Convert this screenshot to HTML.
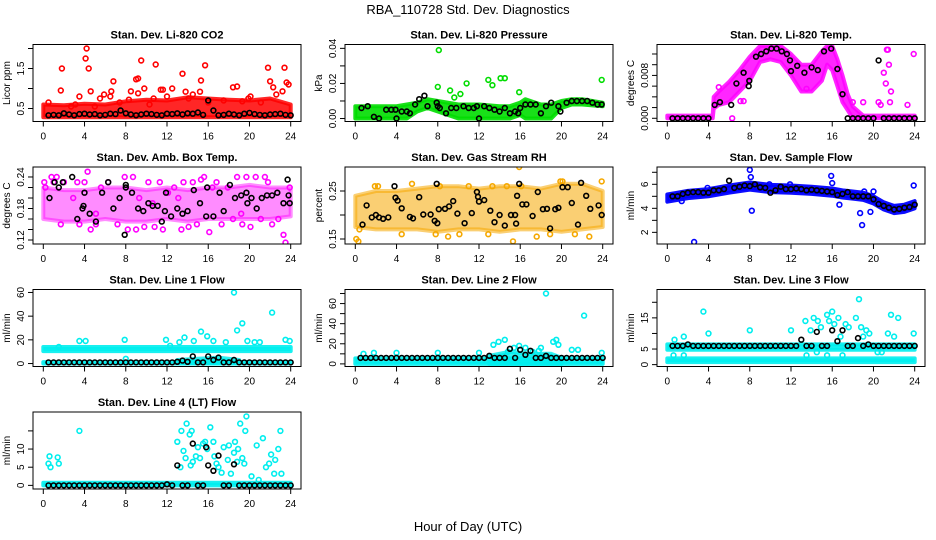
<!DOCTYPE html>
<html><head><meta charset="utf-8"><title>RBA_110728 Std. Dev. Diagnostics</title>
<style>
html,body{margin:0;padding:0;background:#fff;}
svg{display:block;font-family:"Liberation Sans",Arial,sans-serif;}
</style></head>
<body>
<svg id="chart" width="936" height="540" viewBox="0 0 936 540" xmlns="http://www.w3.org/2000/svg">
<rect x="0" y="0" width="936" height="540" fill="#fff"/>
<text x="468" y="14" text-anchor="middle" font-size="13">RBA_110728  Std. Dev. Diagnostics</text>
<text x="468" y="531" text-anchor="middle" font-size="13">Hour of Day (UTC)</text>
</svg>
<script>
// ---- x axis ----
const xTicks = [0,4,8,12,16,20,24];
const blackHours = [0.5,1,1.5,2,2.5,3,3.5,4,4.5,5,5.5,6,6.5,7,7.5,8,8.5,9,9.5,10,10.5,11,11.5,12,12.5,13,13.5,14,14.5,15,15.5,16,16.5,17,17.5,18,18.5,19,19.5,20,20.5,21,21.5,22,22.5,23,23.5,24];

// ---- P1 CO2 ----
const co2BandHours = [0,2,4,6,8,10,12,14,16,18,20,22,24];
const co2BandLo = [0.28,0.28,0.28,0.28,0.28,0.28,0.28,0.28,0.28,0.28,0.28,0.28,0.28];
const co2BandHi = [0.6,0.58,0.62,0.6,0.68,0.72,0.7,0.78,0.75,0.72,0.7,0.75,0.6];
const co2RedX = [1.7,1.8,4.2,4.1,4.4,4.6,3.5,3.1,5.5,6.6,6.8,6.5,7.4,8.5,9.0,9.2,9.5,9.2,9.8,10.7,10.9,11.4,11.6,12.5,13.5,13.8,14.5,15.2,15.3,15.7,16.0,18.4,18.8,19.3,20.1,21.1,21.8,22.0,22.3,22.6,23.2,23.4,23.6,23.8,2.7,5.0,8.3,12.0,17.5,0.5,5.9,10.3,14.1,19.9];
const co2RedY = [0.95,1.5,2.0,1.75,1.5,0.93,0.8,0.6,0.75,0.93,1.18,0.8,0.65,0.93,1.23,1.25,1.7,0.88,1.0,0.75,1.6,0.97,0.97,1.0,1.37,0.92,0.85,0.92,1.2,1.58,0.65,1.03,1.05,0.68,0.8,0.65,1.52,1.18,1.03,0.85,0.93,1.52,1.15,1.1,0.55,0.55,0.72,0.8,0.7,0.65,0.85,0.6,0.75,0.75];
const co2Black = [0.33,0.34,0.33,0.38,0.35,0.33,0.36,0.37,0.35,0.36,0.33,0.34,0.37,0.36,0.45,0.38,0.35,0.33,0.35,0.37,0.36,0.34,0.33,0.37,0.36,0.38,0.35,0.38,0.37,0.40,0.34,0.70,0.45,0.33,0.34,0.37,0.35,0.33,0.37,0.39,0.36,0.34,0.33,0.35,0.36,0.37,0.34,0.33];

// ---- P2 Pressure ----
const presBandHours = [0,2,4,5,6,7,8,10,12,14,15,16,16.5,17,18,19,20,21,22,24];
const presBandLo = [0,0,0,0,0.004,0.006,0.004,0,0,0,0,0.002,0,0,0,0,0.006,0.008,0.008,0.007];
const presBandHi = [0.007,0.007,0.007,0.008,0.009,0.011,0.01,0.008,0.008,0.007,0.007,0.009,0.011,0.01,0.008,0.008,0.01,0.011,0.011,0.009];
const presGreenX = [8.1,8.0,9.2,9.6,10.2,10.8,12.9,13.3,14.1,14.5,15.9,23.9];
const presGreenY = [0.039,0.018,0.016,0.012,0.014,0.020,0.022,0.019,0.023,0.023,0.015,0.022];
const presBlackX = [0.6,1.2,1.8,2.3,3.0,3.5,3.9,4.0,4.5,5.0,5.3,5.8,6.2,6.7,7.0,7.9,8.0,8.2,8.8,9.3,9.8,10.5,11.0,11.5,11.8,12.0,12.5,13.0,13.5,14.0,14.5,15.0,15.5,15.8,16.0,16.5,17.0,17.5,18.0,18.5,19.0,19.7,19.9,20.5,21.0,21.5,22.0,22.5,23.0,23.5,23.9];
const presBlackY = [0.006,0.007,0.001,0,0.005,0.005,0.005,0,0.004,0.004,0.003,0.008,0.011,0.013,0.007,0.009,0.007,0.006,0.003,0.006,0.006,0.007,0.006,0.006,0.007,0,0.007,0.006,0.005,0.004,0.006,0.003,0.004,0.003,0.006,0.008,0.008,0.008,0.003,0.007,0.009,0.007,0.004,0.009,0.01,0.01,0.01,0.01,0.009,0.008,0.008];

// ---- P3 Temp ----
const tempBandHours = [0,4.4,4.5,5,6,7,8,9,10,11,12,13,14,15,15.5,16,16.5,17,17.5,18,19,24];
const tempBandLo = [0,0,0.0018,0.0025,0.003,0.005,0.007,0.0105,0.011,0.0105,0.008,0.005,0.005,0.007,0.01,0.009,0.006,0.003,0.0015,0,0,0];
const tempBandHi = [0.0005,0.0005,0.004,0.005,0.0068,0.009,0.0115,0.0135,0.0135,0.0135,0.012,0.01,0.01,0.0125,0.0135,0.0135,0.011,0.008,0.0045,0.0022,0.0005,0.0005];
const tempMagX = [20.5,20.7,21.0,21.2,21.3,21.4,21.5,21.7,21.6,23.3,23.9,19.0,18.0,6.3,7.1,7.4,5.0,13.5];
const tempMagY = [0.003,0.0025,0.0085,0.0065,0.0128,0.0128,0.01,0.005,0.003,0.0025,0.012,0.003,0.003,0.0,0.0032,0.0032,0.0058,0.0055];
const tempBlackX = [0.5,1,1.5,2,2.5,3,3.5,4,4.6,5.1,6.2,6.7,7.4,7.9,7.95,8.6,9.1,9.6,10.1,10.6,11.1,11.6,11.9,12.0,12.6,13.3,14.0,14.6,15.2,15.9,16.5,17.0,17.5,18,18.5,19,19.5,20,20.5,21,21.5,22,22.5,23,23.5,24];
const tempBlackY = [0,0,0,0,0,0,0,0,0.0025,0.003,0.0025,0.0065,0.0085,0.006,0.007,0.0115,0.012,0.0125,0.013,0.013,0.0125,0.012,0.0108,0.0088,0.0098,0.0085,0.0095,0.009,0.0125,0.013,0.0092,0.0045,0,0,0,0,0,0,0.0108,0,0,0,0,0,0,0];

// ---- P4 Amb box temp ----
const boxBandHours = [0,2,4,6,8,10,12,14,16,18,20,22,24];
const boxBandLo = [0.16,0.155,0.155,0.16,0.155,0.155,0.16,0.155,0.16,0.16,0.16,0.16,0.165];
const boxBandHi = [0.22,0.215,0.215,0.22,0.22,0.215,0.22,0.215,0.22,0.22,0.225,0.22,0.22];
const boxMagX = [0.1,0.2,0.8,1.0,1.3,1.7,2.0,2.9,3.5,4.0,4.3,4.6,5.1,5.6,6.3,7.2,7.9,8.2,8.7,9.0,9.3,9.8,10.2,10.8,11.3,11.6,12.1,12.7,13.4,13.6,14.1,14.5,14.9,15.3,15.6,16.1,16.4,16.8,17.3,17.9,18.4,18.8,19.3,19.7,20.1,20.6,21.1,21.5,21.8,22.2,22.8,23.3,23.5,23.9,3.3,5.1,10.6,13.1,19.2];
const boxMagY = [0.23,0.22,0.24,0.23,0.24,0.15,0.23,0.2,0.15,0.23,0.25,0.14,0.17,0.22,0.23,0.15,0.24,0.14,0.24,0.14,0.2,0.145,0.23,0.145,0.23,0.14,0.21,0.22,0.14,0.23,0.145,0.23,0.15,0.235,0.24,0.135,0.22,0.23,0.15,0.22,0.16,0.24,0.15,0.24,0.145,0.24,0.16,0.24,0.23,0.15,0.16,0.13,0.115,0.22,0.23,0.15,0.19,0.2,0.17];
const boxBlackX = [0.6,1.1,1.5,1.9,2.8,3.3,3.8,3.9,4.0,4.5,5.1,5.7,6.3,6.8,7.4,7.9,8.0,8.0,8.6,9.2,9.7,10.2,10.6,11.1,11.5,11.8,11.9,12.4,13.0,13.5,14.0,14.6,15.2,15.8,15.9,16.5,17.1,17.5,18.1,18.6,19.2,19.7,19.8,20.2,20.7,21.2,21.7,22.2,22.7,23.3,23.7,23.8,23.9];
const boxBlackY = [0.2,0.23,0.22,0.23,0.24,0.16,0.18,0.185,0.21,0.17,0.155,0.21,0.23,0.18,0.2,0.13,0.22,0.225,0.21,0.18,0.175,0.19,0.185,0.185,0.155,0.175,0.21,0.165,0.18,0.17,0.175,0.215,0.19,0.165,0.22,0.165,0.21,0.175,0.225,0.2,0.205,0.21,0.19,0.2,0.18,0.2,0.205,0.205,0.21,0.19,0.235,0.205,0.19];

// ---- P5 Gas stream RH ----
const rhBandHours = [0,2,4,6,8,10,12,14,16,18,20,22,24];
const rhBandLo = [0.175,0.17,0.17,0.17,0.165,0.17,0.17,0.165,0.17,0.17,0.165,0.17,0.175];
const rhBandHi = [0.24,0.25,0.25,0.255,0.26,0.26,0.255,0.26,0.26,0.255,0.265,0.265,0.25];
const rhOrangeX = [0.1,0.3,0.4,1.9,2.2,4.5,7.8,8.2,10.1,11.0,12.9,13.3,15.3,15.9,16.1,18.9,19.9,20.1,21.3,22.7,23.9,5.5,9.0,14.7,17.6];
const rhOrangeY = [0.15,0.145,0.17,0.26,0.26,0.16,0.16,0.26,0.16,0.26,0.16,0.26,0.145,0.3,0.26,0.16,0.27,0.27,0.16,0.155,0.27,0.265,0.155,0.26,0.155];
const rhBlackX = [0.7,1.1,1.6,2.0,2.3,2.7,3.2,3.8,3.9,4.1,4.5,5.3,5.6,6.2,6.6,7.3,7.7,7.9,7.95,8.1,8.7,9.1,9.5,9.9,10.6,11.3,11.8,11.9,12.0,12.5,13.1,13.5,14.0,14.5,15.1,15.5,15.6,15.7,15.9,16.2,16.6,17.2,17.7,18.2,18.6,18.9,19.4,19.7,20.1,20.6,21.0,21.6,21.9,22.4,22.8,23.6,23.9];
const rhBlackY = [0.18,0.22,0.195,0.2,0.195,0.192,0.195,0.26,0.236,0.23,0.214,0.196,0.193,0.237,0.201,0.201,0.188,0.265,0.183,0.212,0.213,0.218,0.229,0.203,0.183,0.204,0.248,0.238,0.228,0.231,0.209,0.185,0.2,0.178,0.2,0.2,0.182,0.24,0.265,0.222,0.222,0.198,0.248,0.212,0.213,0.172,0.212,0.215,0.258,0.258,0.225,0.18,0.267,0.24,0.213,0.22,0.2];

// ---- P6 Sample flow ----
const sfHours = [0,1,2,4,6,8,10,12,14,16,17,18,19,20,21,22,23,24];
const sfCenter = [4.85,5.0,5.15,5.3,5.6,5.85,5.65,5.6,5.5,5.35,5.2,5.1,5.0,4.7,4.2,3.9,4.0,4.3];
const sfBlueX = [2.6,8.0,8.1,8.2,15.9,16.0,16.7,18.7,18.9,19.1,19.7,20.0,23.9,3.9,1.4,9.9,11.9];
const sfBlueY = [1.2,7.2,6.6,3.8,6.7,6.1,4.3,3.6,2.6,5.4,3.7,5.4,5.9,5.7,4.6,6.0,6.0];
const sfBlack = [5.0,5.0,5.2,5.3,5.35,5.35,5.3,5.3,5.5,5.5,5.6,6.3,5.7,5.8,5.9,5.85,6.0,5.75,5.7,5.3,5.5,5.8,5.6,5.6,5.65,5.6,5.5,5.55,5.5,5.45,5.4,5.35,5.1,5.2,5.35,5.0,5.0,5.0,5.0,4.75,4.35,4.2,4.05,3.9,3.95,4.05,4.1,4.3];

// ---- P7 Line 1 ----
const l1CyanX = [1.5,3.5,4.1,7.9,11.9,13.2,13.7,15.3,15.9,17.7,18.5,18.8,19.3,19.8,22.2,23.5,23.9,21.0,20.5,14.6,16.5,12.3,8.0];
const l1CyanY = [14,19,19,20,20,18,22,27,23,18,60,28,34,19,43,20,19,18,18,19,19,15,4];
const l1Black = [1,1,1,1,1,1,1,1,1,1,1,1,1,1,1,1,1,1,1,1,1,1,1,1,1,1.5,2.5,1.5,6,1,1,6,3,5,1,1,3,1,1,1,1,1,1,1,1,1,1,1];

// ---- P8 Line 2 ----
const l2CyanX = [0.8,1.8,4.0,8.0,12.0,13.4,13.9,14.5,15.4,15.9,16.5,17.2,18.0,18.5,19.2,19.5,19.7,21.0,22.2,21.6,23.9,14.8,17.8];
const l2CyanY = [10,11,11,11,11,19,22,24,16,18,16,12,16,70,22,24,19,14,48,14,11,12,13];
const l2Black = [6,6,6,6,6,6,6,6,6,6,6,6,6,6,6,6,6,6,6,6,6,6,6,6,6,8,6,6,6,15,6,14,9,13,6,6,8,6,6,6,6,6,6,6,6,6,6,6];

// ---- P9 Line 3 ----
const l3CyanX = [0.7,0.6,1.6,1.6,3.5,4.0,8.0,12.0,13.4,13.9,14.2,14.6,14.9,15.5,15.7,16.0,16.2,16.6,17.3,17.6,18.3,18.6,18.8,19.3,19.6,20.4,21.4,21.7,22.0,22.4,23.9,14.5,15.5,17.0,18.0,19.0,13.5,16.8,20.8];
const l3CyanY = [8,3,9,3,17,10,11,11,14,11,15,14,12,16,14,17,13,15,13,12,15,21,12,11,10,4,10,16,9,15,10,4,3,3,6,9,3,9,4];
const l3Black = [6,6,6,6.5,6,6,6,6,6,6,6,6,6,6,6,6,6,6,6,6,6,6,6,6,6,8,6,6,10.5,6,6,11,7.5,11,6,6,8.5,6,6.5,6,6,6,6,6,6,6,6,6];

// ---- P10 Line 4 ----
const l4CyanX = [0.5,0.6,0.7,1.4,1.5,3.5,13.0,13.3,13.4,13.6,13.8,13.9,14.2,14.4,14.3,14.5,14.8,15.0,15.2,15.5,15.7,15.9,16.2,16.5,16.6,16.8,17.0,17.3,17.5,17.9,18.0,18.2,18.5,18.6,18.8,18.9,19.1,19.3,19.5,19.6,19.7,20.2,20.7,20.9,21.3,21.6,21.9,22.1,22.4,22.5,22.8,23.0,23.1];
const l4CyanY = [6,8,5,7.7,6,15,12,5,15,9.5,7.5,17,14,15,5.5,6.5,8,10.5,7.5,11.5,12,10,16,12,8,6,5,3.5,10.5,7,11,3.2,9,12,6.5,10,17,7.5,6,15,19,2.5,11,1.5,13,5,6,8.5,3.2,7,10,15,3.2];
const l4Black = [0,0,0,0,0,0,0,0,0,0,0,0,0,0,0,0,0,0,0,0,0,0,0,0.3,0,5.5,0,0,11.5,0,0,5.5,4,8.2,0,0,5.8,0,0,0,0,0,0,0,0,0,0,0];
const l4BlackExtraX = [15.8];
const l4BlackExtraY = [10.5];

// ---- layout ----
const SVGNS = "http://www.w3.org/2000/svg";
const svg = document.getElementById('chart');
const colLeft = [33,345,657];
const rowTop = [44.5,167,289.5,412];
const BW = 268, BH = 77;

function mk(tag, attrs, parent){
  const e = document.createElementNS(SVGNS, tag);
  for (const k in attrs) e.setAttribute(k, attrs[k]);
  (parent||svg).appendChild(e);
  return e;
}

function makePanel(cfg){
  const L = colLeft[cfg.col], T = rowTop[cfg.row];
  const g = mk('g', {});
  
  
  const xs = v => L + 10.3 + v/24*(BW-20.6);
  const ys = v => T + BH - (v - cfg.ymin)/(cfg.ymax - cfg.ymin)*BH;
  const clip = 'clip-' + cfg.name;
  const cp = mk('clipPath', {id: clip}, g);
  mk('rect', {x: L, y: T, width: BW, height: BH}, cp);
  const plot = mk('g', {'clip-path': 'url(#' + clip + ')'}, g);
  
  
  return {g, plot, xs, ys, L, T};
}

function band(P, hours, lo, hi, color, op, name){
  let d = '';
  for (let i = 0; i < hours.length; i++) d += (i ? 'L' : 'M') + P.xs(hours[i]).toFixed(1) + ',' + P.ys(hi[i]).toFixed(1);
  for (let i = hours.length - 1; i >= 0; i--) d += 'L' + P.xs(hours[i]).toFixed(1) + ',' + P.ys(lo[i]).toFixed(1);
  const p = mk('path', {d: d + 'Z', fill: color, 'fill-opacity': op, stroke: color, 'stroke-width': 4, 'stroke-opacity': op, 'stroke-linejoin': 'round'}, P.plot);
  
  
}

function points(P, xv, yv, color, name){
  for (let i = 0; i < xv.length; i++){
    const c = mk('circle', {cx: P.xs(xv[i]).toFixed(1), cy: P.ys(yv[i]).toFixed(1), r: 2.4, fill: 'none', stroke: color, 'stroke-width': 1.6}, P.plot);
    
    
  }
}

function axes(P, cfg){
  const g = P.g;
  const box = mk('rect', {x: P.L, y: P.T, width: BW, height: BH, fill: 'none', stroke: '#000', 'stroke-width': 1}, g);
  
  
  const t = mk('text', {x: P.L + BW/2, y: P.T - 6, 'text-anchor': 'middle', 'font-size': 11, 'font-weight': 'bold'}, g);
  t.textContent = cfg.title;
  
  
  const xb = P.T + BH;
  mk('line', {x1: P.xs(0), x2: P.xs(24), y1: xb, y2: xb, stroke: '#000'}, g);
  xTicks.forEach(v => {
    mk('line', {x1: P.xs(v), x2: P.xs(v), y1: xb, y2: xb + 5, stroke: '#000'}, g);
    const tl = mk('text', {x: P.xs(v), y: xb + 18, 'text-anchor': 'middle', 'font-size': 10}, g);
    tl.textContent = v;
    
    
  });
  const yt = cfg.yTicks;
  mk('line', {x1: P.L, x2: P.L, y1: P.ys(yt[0]), y2: P.ys(yt[yt.length-1]), stroke: '#000'}, g);
  yt.forEach((v, i) => {
    mk('line', {x1: P.L - 5, x2: P.L, y1: P.ys(v), y2: P.ys(v), stroke: '#000'}, g);
    if (cfg.yLabels[i]){
      const yy = P.ys(v), xx = P.L - 9;
      const tl = mk('text', {x: xx, y: yy, 'text-anchor': 'middle', 'font-size': 10, transform: 'rotate(-90 ' + xx + ' ' + yy + ')'}, g);
      tl.textContent = cfg.yLabels[i];
      
      
    }
  });
  const ax = P.L - 23, ay = P.T + BH/2;
  const yl = mk('text', {x: ax, y: ay, 'text-anchor': 'middle', 'font-size': 10, transform: 'rotate(-90 ' + ax + ' ' + ay + ')'}, g);
  yl.textContent = cfg.ylab;
  
  
}

const RED='#ff0000', GREEN='#00dd00', MAG='#ff00ff', BLUE='#0000ff', CYAN='#00eeee', ORANGE='#f5a800', BLK='#000';

let cfg = {name:'co2-panel', col:0,row:0,ymin:0.175,ymax:2.1,title:'Stan. Dev. Li-820 CO2',ylab:'Licor ppm',yTicks:[0.5,1,1.5,2],yLabels:['0.5','','1.5','']};
let P = makePanel(cfg);
band(P, co2BandHours, co2BandLo, co2BandHi, RED, 0.85, 'co2-dense-band');
points(P, co2RedX, co2RedY, RED, 'co2-point');
points(P, blackHours, co2Black, BLK, 'co2-mean-point');
axes(P, cfg);

cfg = {name:'pressure-panel', col:1,row:0,ymin:-0.0017,ymax:0.0422,title:'Stan. Dev. Li-820 Pressure',ylab:'kPa',yTicks:[0,0.01,0.02,0.03,0.04],yLabels:['0.00','','0.02','','0.04']};
P = makePanel(cfg);
band(P, presBandHours, presBandLo, presBandHi, GREEN, 0.9, 'pressure-dense-band');
points(P, presGreenX, presGreenY, GREEN, 'pressure-point');
points(P, presBlackX, presBlackY, BLK, 'pressure-mean-point');
axes(P, cfg);

cfg = {name:'temp-panel', col:2,row:0,ymin:-0.0006,ymax:0.01377,title:'Stan. Dev. Li-820 Temp.',ylab:'degrees C',yTicks:[0,0.002,0.004,0.006,0.008,0.01,0.012],yLabels:['0.000','','','','0.008','','']};
P = makePanel(cfg);
band(P, tempBandHours, tempBandLo, tempBandHi, MAG, 0.85, 'temp-dense-band');
points(P, tempMagX, tempMagY, MAG, 'temp-point');
points(P, tempBlackX, tempBlackY, BLK, 'temp-mean-point');
axes(P, cfg);

cfg = {name:'box-temp-panel', col:0,row:1,ymin:0.1124,ymax:0.259,title:'Stan. Dev. Amb. Box Temp.',ylab:'degrees C',yTicks:[0.12,0.14,0.16,0.18,0.2,0.22,0.24],yLabels:['0.12','','','0.18','','','0.24']};
P = makePanel(cfg);
band(P, boxBandHours, boxBandLo, boxBandHi, MAG, 0.45, 'box-temp-dense-band');
points(P, boxMagX, boxMagY, MAG, 'box-temp-point');
points(P, boxBlackX, boxBlackY, BLK, 'box-temp-mean-point');
axes(P, cfg);

cfg = {name:'rh-panel', col:1,row:1,ymin:0.1396,ymax:0.30,title:'Stan. Dev. Gas Stream RH',ylab:'percent',yTicks:[0.15,0.2,0.25],yLabels:['0.15','','0.25']};
P = makePanel(cfg);
band(P, rhBandHours, rhBandLo, rhBandHi, ORANGE, 0.55, 'rh-dense-band');
points(P, rhOrangeX, rhOrangeY, ORANGE, 'rh-point');
points(P, rhBlackX, rhBlackY, BLK, 'rh-mean-point');
axes(P, cfg);

cfg = {name:'sample-flow-panel', col:2,row:1,ymin:1.03,ymax:7.44,title:'Stan. Dev. Sample Flow',ylab:'ml/min',yTicks:[2,3,4,5,6,7],yLabels:['2','','4','','6','']};
P = makePanel(cfg);
const sfLo = sfCenter.map(v => v - 0.3), sfHi = sfCenter.map(v => v + 0.3);
band(P, sfHours, sfLo, sfHi, BLUE, 0.95, 'sample-flow-dense-band');
points(P, sfBlueX, sfBlueY, BLUE, 'sample-flow-point');
points(P, blackHours, sfBlack, BLK, 'sample-flow-mean-point');
axes(P, cfg);

cfg = {name:'line1-panel', col:0,row:2,ymin:-2.5,ymax:62.5,title:'Stan. Dev. Line 1 Flow',ylab:'ml/min',yTicks:[0,20,40,60],yLabels:['0','20','40','60']};
P = makePanel(cfg);
band(P, [0,24], [10.5,10.5], [14,14], CYAN, 0.9, 'line1-dense-band');
band(P, [0,24], [0,0], [1.2,1.2], CYAN, 0.9, 'line1-low-band');
band(P, [13,15,17,19], [0,0,0,0], [3,4,5,3], CYAN, 0.8, 'line1-mid-band');
points(P, l1CyanX, l1CyanY, CYAN, 'line1-point');
points(P, blackHours, l1Black, BLK, 'line1-mean-point');
axes(P, cfg);

cfg = {name:'line2-panel', col:1,row:2,ymin:-2.6,ymax:74,title:'Stan. Dev. Line 2 Flow',ylab:'ml/min',yTicks:[0,10,20,30,40,50,60,70],yLabels:['0','','20','','40','','60','']};
P = makePanel(cfg);
band(P, [0,24], [0,0], [5.5,5.5], CYAN, 0.9, 'line2-dense-band');
band(P, [13,15,17,19,20], [0,0,0,0,0], [8,12,10,10,6], CYAN, 0.8, 'line2-mid-band');
points(P, l2CyanX, l2CyanY, CYAN, 'line2-point');
points(P, blackHours, l2Black, BLK, 'line2-mean-point');
axes(P, cfg);

cfg = {name:'line3-panel', col:2,row:2,ymin:-0.6,ymax:24.1,title:'Stan. Dev. Line 3 Flow',ylab:'ml/min',yTicks:[0,5,10,15,20],yLabels:['0','5','','15','']};
P = makePanel(cfg);
band(P, [0,24], [4.8,4.8], [6.5,6.5], CYAN, 0.9, 'line3-upper-band');
band(P, [0,24], [0.8,0.8], [2.0,2.0], CYAN, 0.9, 'line3-lower-band');
points(P, l3CyanX, l3CyanY, CYAN, 'line3-point');
points(P, blackHours, l3Black, BLK, 'line3-mean-point');
axes(P, cfg);

cfg = {name:'line4-panel', col:0,row:3,ymin:-1,ymax:20.2,title:'Stan. Dev. Line 4 (LT) Flow',ylab:'ml/min',yTicks:[0,5,10,15],yLabels:['0','5','10','']};
P = makePanel(cfg);
band(P, [0,24], [0,0], [0.7,0.7], CYAN, 0.9, 'line4-dense-band');
points(P, l4CyanX, l4CyanY, CYAN, 'line4-point');
points(P, blackHours, l4Black, BLK, 'line4-mean-point');
points(P, l4BlackExtraX, l4BlackExtraY, BLK, 'line4-mean-point');
axes(P, cfg);
</script>
</body></html>
